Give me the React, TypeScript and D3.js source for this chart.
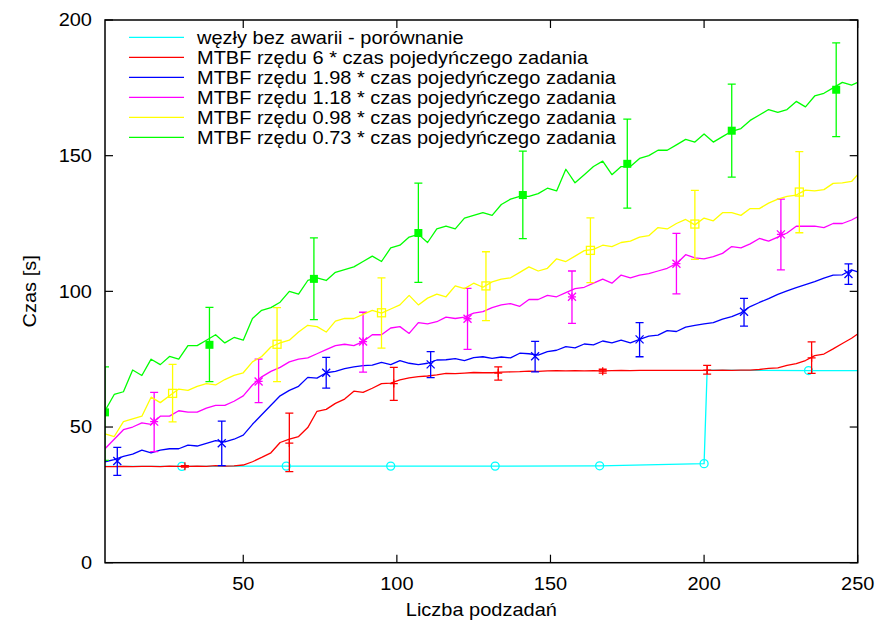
import React from "react";
import * as d3 from "d3";

const xs: number[] = d3.range(5, 249, 3).concat([250]);

const greenVals = [56,62,63,71,69,75,73,76,75,80,80,82,84,81,83,82,90,93,94,96,100,99,104,105,104,107,108,109,111,113,111,116,117,120,121,118,123,124,123,127,128,129,128,132,134,135,135,136,138,137,145,140,143,146,148,143,146,146,149,150,152,152,154,156,155,158,155,157,159,160,163,165,167,166,167,170,168,172,173,175,177,176,177];
const yellowVals = [47.5,46.5,52,53,54,61,59,61.5,64,63.5,65,66,65.5,67.5,69,70,74,76,79.5,81,82,85,87.5,87,85,89,90,90,91.5,93,92,93.5,95,98.5,95,97.5,99,98,102,101,103,101.5,103.5,104.5,105,107,109,107.5,108.5,112,111,113,115,115.5,117,116.5,118,118.5,120,120.5,123.5,123,125,126.5,124.5,127,126,129,129,128,130.5,130.5,132.5,134,135,135.5,137.3,137,137.5,139.8,140,140.5,143];
const magentaVals = [42,45.5,49,50,51.5,51,54,54,56,55.5,55.5,57,58,58,59.5,61.5,65.5,68.5,70.5,72,74,75,75.5,77,78.5,80,80.5,80,81.5,84,84,86.5,87,84.5,88.5,88,88.8,90.5,90,90.5,92,92.5,94,95,95.5,94.5,97,97,98.5,98,99.5,101,101.5,103,104.5,103,106,105,106,106.5,107.5,108.5,110.2,113.5,112.3,112,112.8,114,116.5,116,117.5,119.5,118.5,120,121.5,124,124,124,123.5,125,125,126.3,127.5];
const blueVals = [37.2,38,39.2,40,41.5,40.5,41.5,42,42,43.3,43,44,45,44.5,45.5,47,51,54.5,58,61.5,63.5,65,68.3,68,70,70.5,71.5,72.2,72.6,72.8,73.8,73,74.5,73.5,73,73.5,74.7,74.8,75.2,74.5,75.6,75.9,75.3,75.8,75.5,77.2,77,76.5,77.8,78.3,79.6,79.2,80.6,80.3,81.7,81,82,81,82.3,83.5,83.9,85.5,85.2,86.8,87.5,88,88.5,89.8,90.7,92.1,94.4,95.9,97.3,98.9,100.2,101.4,102.5,103.6,104.9,106,106.1,107.9,107.2];
const redVals = [35.4,35.4,35.5,35.4,35.5,35.5,35.4,35.6,35.5,35.5,35.6,35.5,35.8,35.6,35.7,36,37.2,38.8,40.5,44.3,45.5,46.5,49.8,55.8,56.5,58.7,60.3,63.2,62.8,64.3,66,66.2,67.4,68.1,68.6,68.8,69.2,69.8,69.7,69.9,70.1,70,70,70.2,70.3,70.4,70.6,70.5,70.7,70.8,70.7,70.8,70.7,70.8,70.7,70.8,70.9,70.8,70.9,70.9,70.9,70.9,70.9,70.9,70.9,70.9,70.9,71,70.9,71,71,71.2,71.6,71.8,72.7,73.4,74.5,76.3,76.9,78.8,80.8,82.7,84.3];

const cyanX = [5, 30, 64, 98, 132, 166, 200, 201, 234, 250];
const cyanVals = [35.5, 35.5, 35.6, 35.6, 35.6, 35.7, 36.5, 71.0, 70.8, 70.8];

// error bar samples
const cyanErrX = [30, 64, 98, 132, 166, 200, 234];
const cyanErrY = [35.5, 35.6, 35.6, 35.6, 35.7, 36.5, 70.8];

const redErrX = [31, 65, 99, 133, 167, 201, 235];
const redErrY = [35.5, 44.1, 66.0, 69.9, 70.6, 71.0, 75.5];
const redErrLo = [35.2, 33.6, 59.8, 67.3, 69.9, 69.5, 69.8];
const redErrHi = [35.8, 55.1, 72.0, 72.2, 71.3, 72.7, 81.4];

const blueErrX = [9, 43, 77, 111, 145, 179, 213, 247];
const blueErrY = [37.5, 44.0, 70.0, 73.1, 76.1, 82.3, 92.5, 106.4];
const blueErrLo = [32.2, 35.8, 64.3, 68.2, 70.3, 75.9, 87.2, 102.6];
const blueErrHi = [42.5, 52.2, 75.7, 77.8, 81.6, 88.5, 97.4, 110.1];

const magentaErrX = [21, 55, 89, 123, 157, 191, 225];
const magentaErrY = [52.0, 66.8, 81.5, 89.9, 98.0, 110.2, 121.0];
const magentaErrLo = [40.9, 59.0, 70.2, 78.6, 88.2, 99.1, 107.9];
const magentaErrHi = [62.8, 75.0, 92.3, 101.1, 107.5, 121.4, 134.0];

const yellowErrX = [27, 61, 95, 129, 163, 197, 231];
const yellowErrY = [62.4, 80.5, 92.1, 102.0, 115.1, 124.8, 136.6];
const yellowErrLo = [51.9, 66.7, 79.1, 89.2, 103.2, 111.8, 121.6];
const yellowErrHi = [73.1, 94.0, 105.0, 114.6, 127.1, 137.2, 151.5];

const greenErrX = [5, 39, 73, 107, 141, 175, 209, 243];
const greenErrY = [55.4, 80.3, 104.6, 121.5, 135.5, 147.0, 159.2, 174.3];
const greenErrLo = [37.7, 66.7, 89.6, 103.3, 119.4, 130.7, 142.1, 157.0];
const greenErrHi = [72.2, 94.1, 119.7, 139.9, 151.7, 163.5, 176.4, 191.6];

const legendLabels = [
  "węzły bez awarii - porównanie",
  "MTBF rzędu 6 * czas pojedyńczego zadania",
  "MTBF rzędu 1.98 * czas pojedyńczego zadania",
  "MTBF rzędu 1.18 * czas pojedyńczego zadania",
  "MTBF rzędu 0.98 * czas pojedyńczego zadania",
  "MTBF rzędu 0.73 * czas pojedyńczego zadania",
];

const xTicks = [50, 100, 150, 200, 250];
const yTicks = [0, 50, 100, 150, 200];

const W = 881, H = 625;
const L = 105, R = 857.7, T = 20, B = 562.7;
const FONT = "'Liberation Sans', Arial, Helvetica, sans-serif";

type Marker = "circle" | "plus" | "cross" | "star" | "square" | "fsquare";

function MarkerShape({ type, x, y, color }: { type: Marker; x: number; y: number; color: string }) {
  const s = 4;
  const sw = 1.3;
  switch (type) {
    case "circle":
      return <circle cx={x} cy={y} r={4} fill="none" stroke={color} strokeWidth={sw} />;
    case "plus":
      return <path d={`M${x - s},${y}H${x + s}M${x},${y - s}V${y + s}`} stroke={color} strokeWidth={sw} />;
    case "cross":
      return <path d={`M${x - s},${y - s}L${x + s},${y + s}M${x - s},${y + s}L${x + s},${y - s}`} stroke={color} strokeWidth={sw} />;
    case "star":
      return <path d={`M${x - s},${y - s}L${x + s},${y + s}M${x - s},${y + s}L${x + s},${y - s}M${x - s},${y}H${x + s}M${x},${y - s}V${y + s}`} stroke={color} strokeWidth={sw} />;
    case "square":
      return <rect x={x - 4} y={y - 4} width={8} height={8} fill="none" stroke={color} strokeWidth={sw} />;
    case "fsquare":
      return <rect x={x - 4} y={y - 4} width={8} height={8} fill={color} />;
  }
}

export default function App() {
  const x = d3.scaleLinear().domain([5, 250]).range([L, R]);
  const y = d3.scaleLinear().domain([0, 200]).range([B, T]);
  const line = d3.line<[number, number]>().x(d => x(d[0])).y(d => y(d[1]));

  const mk = (vals: number[], xv: number[] = xs) => xv.map((xx, i) => [xx, vals[i]] as [number, number]).filter(d => d[1] !== undefined);

  const series = [
    { color: "#00ffff", pts: mk(cyanVals, cyanX), marker: "circle" as Marker, ex: cyanErrX, ey: cyanErrY, lo: null as number[] | null, hi: null as number[] | null },
    { color: "#ff0000", pts: mk(redVals), marker: "plus" as Marker, ex: redErrX, ey: redErrY, lo: redErrLo, hi: redErrHi },
    { color: "#0000ff", pts: mk(blueVals), marker: "cross" as Marker, ex: blueErrX, ey: blueErrY, lo: blueErrLo, hi: blueErrHi },
    { color: "#ff00ff", pts: mk(magentaVals), marker: "star" as Marker, ex: magentaErrX, ey: magentaErrY, lo: magentaErrLo, hi: magentaErrHi },
    { color: "#ffff00", pts: mk(yellowVals), marker: "square" as Marker, ex: yellowErrX, ey: yellowErrY, lo: yellowErrLo, hi: yellowErrHi },
    { color: "#00ff00", pts: mk(greenVals), marker: "fsquare" as Marker, ex: greenErrX, ey: greenErrY, lo: greenErrLo, hi: greenErrHi },
  ];

  const fs = 17.7;
  const sx = 1.13;

  return (
    <svg width={W} height={H} style={{ position: "absolute", left: 0, top: 0, background: "#fff" }} fontFamily={FONT}>
      <rect x={0} y={0} width={W} height={H} fill="#fff" />
      <defs>
        <clipPath id="plotClip">
          <rect x={L} y={T} width={R - L} height={B - T} />
        </clipPath>
      </defs>

      {/* legend */}
      {legendLabels.map((lab, i) => {
        const ly = 37.3 + i * 20;
        return (
          <g key={lab}>
            <line x1={129} x2={184} y1={ly} y2={ly} stroke={series[i].color} strokeWidth={1.3} />
            <text transform={`translate(197,${ly + 6.3}) scale(${sx},1)`} fontSize={fs} fill="#000">{lab}</text>
          </g>
        );
      })}

      {/* series */}
      <g clipPath="url(#plotClip)">
        {series.map((s, i) => (
          <g key={i}>
            <path d={line(s.pts) || ""} fill="none" stroke={s.color} strokeWidth={1.3} strokeLinejoin="round" />
            {s.ex.map((ex, j) => {
              const cx = x(ex);
              const cy = y(s.ey[j]);
              return (
                <g key={j}>
                  {s.lo && s.hi && (
                    <path
                      d={`M${cx},${y(s.lo[j])}V${y(s.hi[j])}M${cx - 4},${y(s.lo[j])}H${cx + 4}M${cx - 4},${y(s.hi[j])}H${cx + 4}`}
                      stroke={s.color}
                      strokeWidth={1.3}
                      fill="none"
                    />
                  )}
                  <MarkerShape type={s.marker} x={cx} y={cy} color={s.color} />
                </g>
              );
            })}
          </g>
        ))}
      </g>

      {/* frame and ticks */}
      <rect x={L} y={T} width={R - L} height={B - T} fill="none" stroke="#000" strokeWidth={1.5} />
      {yTicks.map(t => (
        <g key={"y" + t}>
          <line x1={L} x2={L + 8} y1={y(t)} y2={y(t)} stroke="#000" strokeWidth={1.2} />
          <line x1={R} x2={R - 8} y1={y(t)} y2={y(t)} stroke="#000" strokeWidth={1.2} />
          <text transform={`translate(92,${y(t) + 6.3}) scale(${sx},1)`} fontSize={fs} textAnchor="end" fill="#000">{t}</text>
        </g>
      ))}
      {xTicks.map(t => (
        <g key={"x" + t}>
          <line x1={x(t)} x2={x(t)} y1={B} y2={B - 8} stroke="#000" strokeWidth={1.2} />
          <line x1={x(t)} x2={x(t)} y1={T} y2={T + 8} stroke="#000" strokeWidth={1.2} />
          <text transform={`translate(${x(t)},${590}) scale(${sx},1)`} fontSize={fs} textAnchor="middle" fill="#000">{t}</text>
        </g>
      ))}

      <text transform={`translate(${(L + R) / 2},${616}) scale(${sx},1)`} fontSize={fs} textAnchor="middle" fill="#000">Liczba podzadań</text>
      <text transform={`translate(36,${(T + B) / 2}) rotate(-90) scale(${sx},1)`} fontSize={fs} textAnchor="middle" fill="#000">Czas [s]</text>
    </svg>
  );
}
